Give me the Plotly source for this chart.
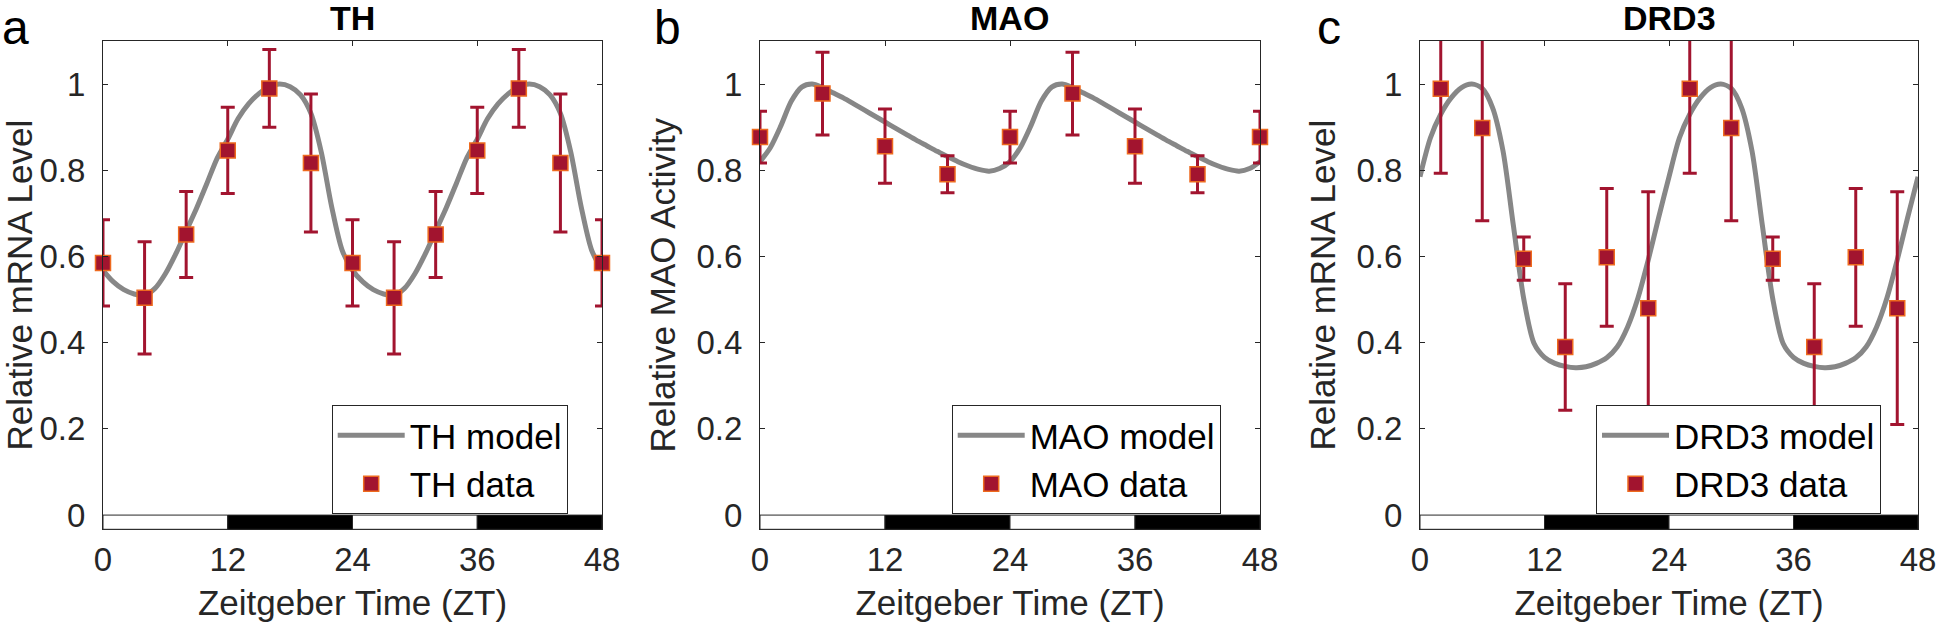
import plotly.graph_objects as go

# hours for the model curves (at 1 h steps)
hours = list(range(49))

# TH
th_x = [0, 4, 8, 12, 16, 20, 24, 28, 32, 36, 40, 44, 48]
th_y = [0.585, 0.504, 0.651, 0.846, 0.990, 0.817, 0.585, 0.504, 0.651, 0.846, 0.990, 0.817, 0.585]
th_err = [0.10, 0.13, 0.10, 0.10, 0.09, 0.16, 0.10, 0.13, 0.10, 0.10, 0.09, 0.16, 0.10]
th_model = [0.568, 0.541, 0.523, 0.513, 0.510, 0.526, 0.560, 0.606, 0.659, 0.712, 0.770, 0.829,
            0.872, 0.920, 0.954, 0.978, 0.994, 1.000, 0.994, 0.975, 0.932, 0.842, 0.715, 0.615,
            0.568, 0.541, 0.523, 0.513, 0.510, 0.526, 0.560, 0.606, 0.659, 0.712, 0.770, 0.829,
            0.872, 0.920, 0.954, 0.978, 0.994, 1.000, 0.994, 0.975, 0.932, 0.842, 0.715, 0.615,
            0.568]

# MAO
mao_x = [0, 6, 12, 18, 24, 30, 36, 42, 48]
mao_y = [0.877, 0.978, 0.856, 0.791, 0.877, 0.978, 0.856, 0.791, 0.877]
mao_err = [0.06, 0.096, 0.086, 0.043, 0.06, 0.096, 0.086, 0.043, 0.06]
mao_model = [0.820, 0.853, 0.903, 0.960, 0.993, 1.000, 0.992, 0.980, 0.968, 0.954, 0.940, 0.926,
             0.912, 0.898, 0.884, 0.870, 0.857, 0.844, 0.832, 0.820, 0.810, 0.802, 0.798, 0.804,
             0.820, 0.853, 0.903, 0.960, 0.993, 1.000, 0.992, 0.980, 0.968, 0.954, 0.940, 0.926,
             0.912, 0.898, 0.884, 0.870, 0.857, 0.844, 0.832, 0.820, 0.810, 0.802, 0.798, 0.804,
             0.820]

# DRD3
drd3_x = [2, 6, 10, 14, 18, 22, 26, 30, 34, 38, 42, 46]
drd3_y = [0.989, 0.898, 0.595, 0.390, 0.598, 0.480, 0.989, 0.898, 0.595, 0.390, 0.598, 0.480]
drd3_err = [0.196, 0.215, 0.05, 0.147, 0.16, 0.27, 0.196, 0.215, 0.05, 0.147, 0.16, 0.27]
drd3_model = [0.785, 0.875, 0.930, 0.968, 0.992, 1.000, 0.990, 0.945, 0.845, 0.672, 0.502, 0.398,
              0.366, 0.352, 0.345, 0.342, 0.344, 0.352, 0.365, 0.390, 0.436, 0.503, 0.592, 0.690,
              0.785, 0.875, 0.930, 0.968, 0.992, 1.000, 0.990, 0.945, 0.845, 0.672, 0.502, 0.398,
              0.366, 0.352, 0.345, 0.342, 0.344, 0.352, 0.365, 0.390, 0.436, 0.503, 0.592, 0.690,
              0.785]

# light/dark bar
ld_start = [0, 12, 24, 36]
ld_end = [12, 24, 36, 48]
ld_fill = ["white", "black", "white", "black"]

x_ticks = [0, 12, 24, 36, 48]
y_ticks = [0, 0.2, 0.4, 0.6, 0.8, 1]
y_ticktext = ["0", "0.2", "0.4", "0.6", "0.8", "1"]
y_range = [-0.033, 1.1]

panels = [
    ("TH", "Relative mRNA Level", th_x, th_y, th_err, th_model, "a", False),
    ("MAO", "Relative MAO Activity", mao_x, mao_y, mao_err, mao_model, "b", False),
    ("DRD3", "Relative mRNA Level", drd3_x, drd3_y, drd3_err, drd3_model, "c", True),
]

W, H = 1938, 627
x_doms = [(103, 602), (760, 1260), (1420, 1918)]
y_dom = [1 - 529.3 / H, 1 - 41 / H]
legend_left = [331.7, 951.7, 1596]
letter_left = [0, 652, 1315]

FONT = "Liberation Sans, Arial, Helvetica, sans-serif"
TXT = "#262626"
RED = "#A2142F"
EDGE = "#EE6A1F"
GRAY = "#878787"

fig = go.Figure()
annotations = []
shapes = []
layout = {}

for i, (gene, ylabel, dx, dy, derr, model, letter, clip) in enumerate(panels):
    n = "" if i == 0 else str(i + 1)
    leg = "legend" + n
    fig.add_trace(go.Scatter(x=hours, y=model, mode="lines", name=gene + " model",
                             line=dict(color=GRAY, width=5, shape="spline", smoothing=0.8),
                             xaxis="x" + n, yaxis="y" + n, legend=leg))
    fig.add_trace(go.Scatter(x=dx, y=dy, mode="markers", name=gene + " data", cliponaxis=clip,
                             marker=dict(symbol="square", size=15, color=RED,
                                         line=dict(color=EDGE, width=1.5)),
                             error_y=dict(type="data", array=derr, color=RED, thickness=3, width=7),
                             xaxis="x" + n, yaxis="y" + n, legend=leg))

    axis_common = dict(showline=True, linecolor=TXT, linewidth=1, mirror="ticks",
                       ticks="inside", ticklen=5, tickcolor=TXT, showgrid=False, zeroline=False,
                       automargin=False, tickfont=dict(family=FONT, size=33, color=TXT))
    layout["xaxis" + n] = dict(axis_common, domain=[x_doms[i][0] / W, x_doms[i][1] / W],
                               anchor="y" + n, range=[0, 48], tickvals=x_ticks,
                               ticklabelstandoff=1,
                               title=dict(text="Zeitgeber Time (ZT)", standoff=13,
                                          font=dict(family=FONT, size=35, color=TXT)))
    layout["yaxis" + n] = dict(axis_common, domain=y_dom, anchor="x" + n, range=y_range,
                               tickvals=y_ticks, ticktext=y_ticktext, ticklabelstandoff=10,
                               title=dict(text=ylabel, standoff=10,
                                          font=dict(family=FONT, size=35, color=TXT)))
    layout[leg] = dict(x=legend_left[i] / W, y=1 - 405 / H, xanchor="left", yanchor="top",
                       bgcolor="white", bordercolor=TXT, borderwidth=1, itemwidth=67,
                       font=dict(family=FONT, size=35, color="black"))

    for s, e, c in zip(ld_start, ld_end, ld_fill):
        shapes.append(dict(type="rect", xref="x" + n, yref="y" + n, x0=s, x1=e,
                           y0=y_range[0], y1=0, fillcolor=c, line=dict(color=TXT, width=1)))

    cx = (x_doms[i][0] + x_doms[i][1]) / 2 / W
    annotations.append(dict(text="<b>" + gene + "</b>", x=cx, y=1 - 18.5 / H, xref="paper",
                            yref="paper", xanchor="center", yanchor="middle", showarrow=False,
                            font=dict(family=FONT, size=34, color="black")))
    annotations.append(dict(text=letter, x=letter_left[i] / W, y=1 - 27 / H, xref="paper",
                            yref="paper", xanchor="left", yanchor="middle", showarrow=False,
                            font=dict(family=FONT, size=48, color="black")))

fig.update_layout(template="none", width=W, height=H, margin=dict(l=0, r=0, t=0, b=0),
                  paper_bgcolor="white", plot_bgcolor="white", showlegend=True,
                  annotations=annotations, shapes=shapes, **layout)

# the page body has a default 8px margin; drop it so the figure fills the window
fig.write_html("out.html", config={"displayModeBar": False},
               post_script="document.body.style.margin = '0';")
